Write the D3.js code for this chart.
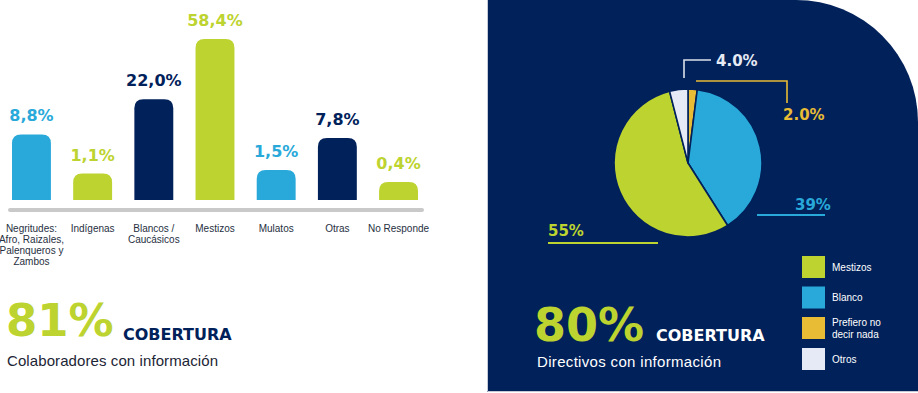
<!DOCTYPE html>
<html>
<head>
<meta charset="utf-8">
<script src="https://cdn.jsdelivr.net/npm/d3@7"></script>
<style>
  html, body { margin: 0; padding: 0; background: #ffffff; }
  svg { display: block; }
</style>
</head>
<body>
<svg id="chart" width="918" height="393"></svg>
<script>
// ---------- data ----------
const barCategories = [
  ["Negritudes:", "Afro, Raizales,", "Palenqueros y", "Zambos"],
  ["Indígenas"],
  ["Blancos /", "Caucásicos"],
  ["Mestizos"],
  ["Mulatos"],
  ["Otras"],
  ["No Responde"]
];
const barValues = [8.8, 1.1, 22.0, 58.4, 1.5, 7.8, 0.4];
const barLabels = ["8,8%", "1,1%", "22,0%", "58,4%", "1,5%", "7,8%", "0,4%"];
const barColorKeys = ["blue", "green", "navy", "green", "blue", "navy", "green"];

const pieCategories = ["Mestizos", "Blanco", "Prefiero no decir nada", "Otros"];
const pieLegendLines = [["Mestizos"], ["Blanco"], ["Prefiero no", "decir nada"], ["Otros"]];
const pieValues = [55, 39, 2, 4];
const pieLabels = ["55%", "39%", "2.0%", "4.0%"];
const pieDrawOrder = ["Prefiero no decir nada", "Blanco", "Mestizos", "Otros"];

const coverageLeft = { value: "81%", word: "COBERTURA", caption: "Colaboradores con información" };
const coverageRight = { value: "80%", word: "COBERTURA", caption: "Directivos con información" };

// ---------- styles ----------
const C = {
  blue: "#29a9da",
  green: "#bdd330",
  navy: "#00215a",
  yellow: "#e8bc35",
  otros: "#e6eaf6",
  axis: "#c9c9c9",
  text: "#27303f"
};
const pieColors = { "Mestizos": C.green, "Blanco": C.blue, "Prefiero no decir nada": C.yellow, "Otros": C.otros };
const BOLD = "'DejaVu Sans', sans-serif";
const REG = "'Liberation Sans', Arial, sans-serif";

const svg = d3.select("#chart");

// ---------- left: bar chart ----------
const x = d3.scaleBand()
  .domain(d3.range(barValues.length))
  .range([12, 418])
  .paddingInner(0.364)
  .paddingOuter(0);
const baseY = 200;
const h = d3.scaleSqrt().domain([0, d3.max(barValues)]).range([5, 161]);

function topRoundedBar(x0, w, y0, y1, r) {
  r = Math.min(r, w / 2, (y1 - y0));
  return `M${x0},${y1}V${y0 + r}Q${x0},${y0} ${x0 + r},${y0}H${x0 + w - r}Q${x0 + w},${y0} ${x0 + w},${y0 + r}V${y1}Z`;
}

const bars = svg.append("g");
bars.selectAll("path.bar")
  .data(barValues)
  .join("path")
  .attr("class", "bar")
  .attr("d", (d, i) => topRoundedBar(x(i), x.bandwidth(), baseY - h(d), baseY, 9))
  .attr("fill", (d, i) => C[barColorKeys[i]]);

bars.selectAll("text.val")
  .data(barValues)
  .join("text")
  .attr("class", "val")
  .attr("x", (d, i) => x(i) + x.bandwidth() / 2)
  .attr("y", d => baseY - h(d) - 13)
  .attr("text-anchor", "middle")
  .attr("font-family", BOLD)
  .attr("font-weight", "bold")
  .attr("font-size", 16)
  .attr("fill", (d, i) => C[barColorKeys[i]])
  .text((d, i) => barLabels[i]);

// axis line
svg.append("line")
  .attr("x1", 10).attr("x2", 422)
  .attr("y1", 210).attr("y2", 210)
  .attr("stroke", C.axis)
  .attr("stroke-width", 4)
  .attr("stroke-linecap", "round");

// category labels
const catG = svg.append("g");
barCategories.forEach((lines, i) => {
  const t = catG.append("text")
    .attr("x", x(i) + x.bandwidth() / 2)
    .attr("y", 231.5)
    .attr("text-anchor", "middle")
    .attr("font-family", REG)
    .attr("font-size", 10)
    .attr("fill", C.text);
  lines.forEach((ln, k) => {
    t.append("tspan")
      .attr("x", x(i) + x.bandwidth() / 2)
      .attr("dy", k === 0 ? 0 : 11)
      .text(ln);
  });
});

// coverage left
svg.append("text")
  .attr("x", 6).attr("y", 336)
  .attr("font-family", BOLD).attr("font-weight", "bold")
  .attr("font-size", 45).attr("fill", C.green)
  .text(coverageLeft.value);
svg.append("text")
  .attr("x", 123).attr("y", 340)
  .attr("font-family", BOLD).attr("font-weight", "bold")
  .attr("font-size", 16).attr("fill", C.navy)
  .text(coverageLeft.word);
svg.append("text")
  .attr("x", 7).attr("y", 366)
  .attr("font-family", REG)
  .attr("font-size", 15).attr("fill", "#1c2535")
  .attr("textLength", 211).attr("lengthAdjust", "spacing")
  .text(coverageLeft.caption);

// ---------- right: panel ----------
svg.append("path")
  .attr("d", "M487,0H796A122,122 0 0 1 918,122V392H487Z")
  .attr("fill", C.navy);
svg.append("path")
  .attr("d", "M487.5,0V391.5H918")
  .attr("fill", "none")
  .attr("stroke", "#c5cad6")
  .attr("stroke-width", 1);

// pie
const pieData = pieDrawOrder.map(name => ({ name, value: pieValues[pieCategories.indexOf(name)] }));
const pie = d3.pie().sort(null).value(d => d.value);
const arc = d3.arc().innerRadius(0).outerRadius(74);
const pieG = svg.append("g").attr("transform", "translate(688,163)");
pieG.selectAll("path")
  .data(pie(pieData))
  .join("path")
  .attr("d", arc)
  .attr("fill", d => pieColors[d.data.name])
  .attr("stroke", C.navy)
  .attr("stroke-width", 1.6)
  .attr("stroke-linejoin", "round");

// leader lines and labels
const lab = (name) => pieLabels[pieCategories.indexOf(name)];
svg.append("path").attr("d", "M684,78V60H711")
  .attr("fill", "none").attr("stroke", "#dde1ec").attr("stroke-width", 1.6);
svg.append("text").attr("x", 716).attr("y", 65.5)
  .attr("font-family", BOLD).attr("font-weight", "bold").attr("font-size", 15)
  .attr("fill", "#e6eaf4").text(lab("Otros"));

svg.append("path").attr("d", "M696,81H787V103")
  .attr("fill", "none").attr("stroke", C.yellow).attr("stroke-width", 1.6);
svg.append("text").attr("x", 783).attr("y", 120)
  .attr("font-family", BOLD).attr("font-weight", "bold").attr("font-size", 15)
  .attr("fill", C.yellow).text(lab("Prefiero no decir nada"));

svg.append("path").attr("d", "M757,215H825")
  .attr("fill", "none").attr("stroke", C.blue).attr("stroke-width", 2);
svg.append("text").attr("x", 795).attr("y", 210)
  .attr("font-family", BOLD).attr("font-weight", "bold").attr("font-size", 15)
  .attr("fill", C.blue).text(lab("Blanco"));

svg.append("path").attr("d", "M548,243H658")
  .attr("fill", "none").attr("stroke", C.green).attr("stroke-width", 2);
svg.append("text").attr("x", 548).attr("y", 236)
  .attr("font-family", BOLD).attr("font-weight", "bold").attr("font-size", 15)
  .attr("fill", C.green).text(lab("Mestizos"));

// legend
const legY = [256, 286.5, 317, 348];
const leg = svg.append("g");
pieCategories.forEach((name, i) => {
  leg.append("rect")
    .attr("x", 802).attr("y", legY[i])
    .attr("width", 23).attr("height", 22)
    .attr("fill", pieColors[name]);
  const lines = pieLegendLines[i];
  const t = leg.append("text")
    .attr("x", 832)
    .attr("y", legY[i] + 11 + 3.5 - (lines.length - 1) * 6)
    .attr("font-family", REG).attr("font-size", 10)
    .attr("fill", "#ffffff");
  lines.forEach((ln, k) => {
    t.append("tspan").attr("x", 832).attr("dy", k === 0 ? 0 : 12).text(ln);
  });
});

// coverage right
svg.append("text")
  .attr("x", 534).attr("y", 341)
  .attr("font-family", BOLD).attr("font-weight", "bold")
  .attr("font-size", 46).attr("fill", C.green)
  .text(coverageRight.value);
svg.append("text")
  .attr("x", 656).attr("y", 341)
  .attr("font-family", BOLD).attr("font-weight", "bold")
  .attr("font-size", 16).attr("fill", "#ffffff")
  .text(coverageRight.word);
svg.append("text")
  .attr("x", 537).attr("y", 367)
  .attr("font-family", REG)
  .attr("font-size", 15).attr("fill", "#ffffff")
  .attr("textLength", 184).attr("lengthAdjust", "spacing")
  .text(coverageRight.caption);
</script>
</body>
</html>
